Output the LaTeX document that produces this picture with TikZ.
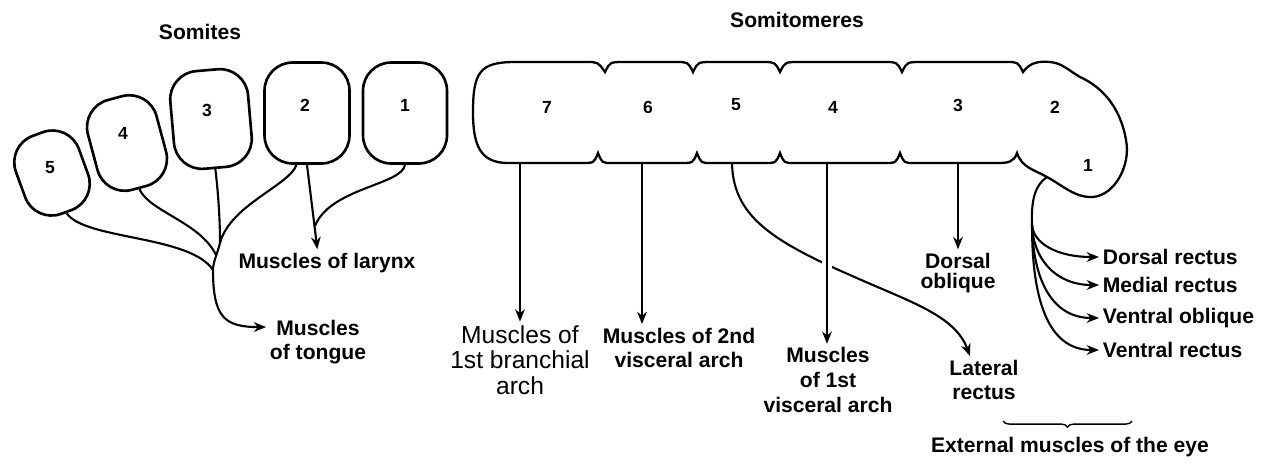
\documentclass[tikz,border=0pt]{standalone}
\usepackage{fontspec}
\setmainfont{Liberation Sans}
\usetikzlibrary{arrows.meta,decorations.pathreplacing}

\begin{document}
\begin{tikzpicture}[x=0.02cm,y=-0.02cm,
  somite/.style={draw,line width=1.5pt,rounded corners=16pt},
  num/.style={font=\bfseries\fontsize{10}{12}\selectfont},
  lbl/.style={font=\bfseries\fontsize{12}{14}\selectfont,align=center,inner sep=2pt},
  stem/.style={line width=1.2pt},
  arr/.style={line width=1.2pt,-{Stealth[length=7pt,width=5.5pt]}}]

\useasboundingbox (0,0) rectangle (1266,468);

% titles
\node[lbl] (tsomites) at (200,32) {Somites};
\node[lbl] (tsomitomeres) at (797,20) {Somitomeres};

% somites
\node[somite,minimum width=1.68cm,minimum height=2.02cm] (s1) at (405,113) {};
\node[somite,minimum width=1.7cm,minimum height=2.02cm] (s2) at (307,113) {};
\node[somite,minimum width=1.56cm,minimum height=1.96cm,rotate=5] (s3) at (211,119) {};
\node[somite,minimum width=1.42cm,minimum height=1.86cm,rotate=15] (s4) at (127,143) {};
\node[somite,minimum width=1.34cm,minimum height=1.66cm,rotate=20] (s5) at (52,173) {};
\foreach \n/\x/\y in {1/405/105,2/305/105,3/207/110,4/123/133,5/50/168}
  \node[num] (sn\n) at (\x,\y) {\n};

% labels left
\node[lbl] (tongue) at (318,342) {Muscles\\of tongue};
\node[lbl] (larynx) at (327,263) {Muscles of larynx};

% branches to tongue
\coordinate (j1) at (220,243);
\coordinate (j2) at (216,255);
\coordinate (j3) at (213,270);
\draw[stem] (s3.south) .. controls (219,200) and (220,225) .. (j1);
\draw[stem] ([xshift=-6pt]s2.south) .. controls (290,185) and (230,205) .. (j1);
\draw[stem] (s4.south) .. controls (150,212) and (200,222) .. (j2);
\draw[stem] (s5.south) .. controls (85,240) and (190,235) .. (j3);
\draw[arr] (j1) .. controls (217,255) and (213,262) .. (j3)
  .. controls (213,318) and (225,327) .. ([yshift=8.5pt]tongue.west);

% larynx
\coordinate (j4) at (315,226);
\draw[stem] (s1.south) .. controls (402,185) and (330,188) .. (j4);
\draw[arr] (s2.south) -- ([xshift=-5.5pt]larynx.north);

% somitomere labels
\node[lbl,font=\fontsize{14}{14.5}\selectfont] (branch1) at (520,360) {Muscles of\\1st branchial\\arch};
\node[lbl] (visc2) at (679,348) {Muscles of 2nd\\visceral arch};
\node[lbl] (visc1) at (828,380) {Muscles\\of 1st\\visceral arch};
\node[lbl,font=\bfseries\fontsize{12}{11.5}\selectfont] (dobl) at (958,273) {Dorsal\\oblique};
\node[lbl] (latr) at (984,380) {Lateral\\rectus};
\node[lbl,anchor=west] (drect) at (1099,257) {Dorsal rectus};
\node[lbl,anchor=west] (mrect) at (1099,285) {Medial rectus};
\node[lbl,anchor=west] (vobl) at (1099,318) {Ventral oblique};
\node[lbl,anchor=west] (vrect) at (1099,350) {Ventral rectus};
\node[lbl] (ext) at (1070,447) {External muscles of the eye};

% roots on the somitomeres
\coordinate (m7) at (520,163);
\coordinate (m6) at (642,163);
\coordinate (m5) at (732,163);
\coordinate (m4) at (827,163);
\coordinate (m3) at (958,163);
\coordinate (m1) at (1047,177);
\coordinate (fan) at (1032,225);

% arrows
\draw[arr] (m7) -- (m7 |- branch1.north);
\draw[arr] (m6) -- (m6 |- visc2.north);
\draw[arr] (m5) .. controls (733,215) and (770,240) .. (850,275)
  .. controls (910,302) and (955,315) .. ([xshift=-8pt]latr.north);
\draw[arr,preaction={draw=white,line width=6pt,-}] (m4) -- (m4 |- visc1.north);
\draw[arr] (m3) -- (m3 |- dobl.north);

% eye muscles
\draw[stem] (m1) .. controls (1035,185) and (1031,200) .. (fan);
\draw[arr] (fan) .. controls (1033,242) and (1055,257) .. (drect.west);
\draw[arr] (fan) .. controls (1033,258) and (1055,285) .. (mrect.west);
\draw[arr] (fan) .. controls (1033,280) and (1052,318) .. (vobl.west);
\draw[arr] (fan) .. controls (1032,300) and (1048,350) .. (vrect.west);

% brace
\coordinate (br1) at (1003,421);
\coordinate (br2) at (1132,421);
\draw[line width=0.8pt,decorate,decoration={brace,mirror,amplitude=3.5pt}] (br1) -- (br2);

% somitomeres
\draw[line width=1.3pt] (473,112)
  .. controls (473,72) and (480,62) .. (515,62)
  -- (586,62) .. controls (598,62) .. (605,72) .. controls (610,62) .. (624,62)
  -- (676,62) .. controls (688,62) .. (693,72) .. controls (698,62) .. (712,62)
  -- (763,62) .. controls (775,62) .. (780,72) .. controls (785,62) .. (799,62)
  -- (885,62) .. controls (897,62) .. (902,72) .. controls (907,62) .. (921,62)
  -- (1006,62) .. controls (1018,62) .. (1023,72)
  .. controls (1030,62) and (1040,61) .. (1050,62)
  .. controls (1062,63) and (1068,70) .. (1080,77)
  .. controls (1100,86) and (1120,105) .. (1126,140)
  .. controls (1131,165) and (1115,195) .. (1093,197)
  .. controls (1075,198) and (1062,185) .. (1047,177)
  .. controls (1035,170) and (1022,168) .. (1017,153)
  .. controls (1014,162) and (1008,163) .. (998,163)
  -- (914,163) .. controls (904,163) .. (900,153) .. controls (896,163) .. (884,163)
  -- (794,163) .. controls (784,163) .. (780,153) .. controls (776,163) .. (764,163)
  -- (711,163) .. controls (701,163) .. (697,153) .. controls (693,163) .. (681,163)
  -- (612,163) .. controls (602,163) .. (598,153) .. controls (594,163) .. (582,163)
  -- (508,163) .. controls (480,163) and (473,145) .. (473,112) -- cycle;
\foreach \n/\x/\y in {7/547/107,6/648/107,5/736/105,4/833/107,3/958/105,2/1055/107,1/1088/165}
  \node[num] (mn\n) at (\x,\y) {\n};

\end{tikzpicture}
\end{document}
